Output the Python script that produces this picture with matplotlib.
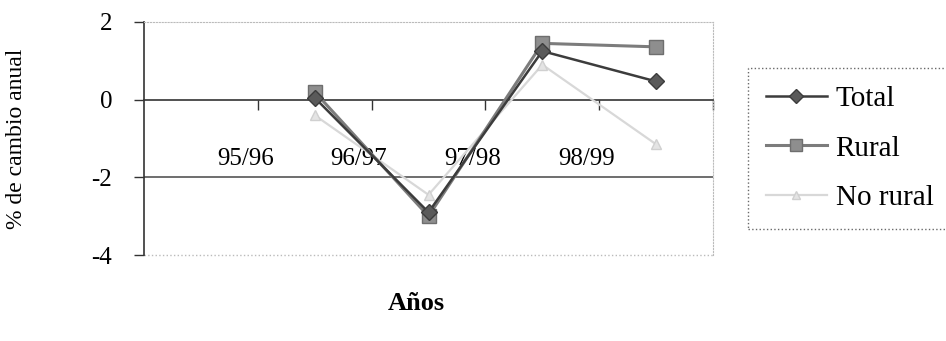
import matplotlib
matplotlib.use('Agg')
import matplotlib.pyplot as plt
import numpy as np

# category slots on the x axis; the first one has no data
categories = ['', '95/96', '96/97', '97/98', '98/99']
tick_labels = ['95/96', '96/97', '97/98', '98/99']

total = [np.nan, 0.05, -2.9, 1.25, 0.47]
rural = [np.nan, 0.2, -3.0, 1.45, 1.36]
no_rural = [np.nan, -0.4, -2.45, 0.9, -1.15]

plt.rcParams['font.family'] = ['Liberation Serif', 'DejaVu Serif']

fig = plt.figure(figsize=(9.46, 3.41), dpi=100)
ax = fig.add_axes([144 / 946, 1 - 255 / 341, 569 / 946, 233 / 341])

x = np.arange(len(categories))
ax.plot(x, no_rural, color='#d8d8d8', lw=1.6, marker='^', ms=7,
        mfc='#e4e4e4', mec='#d0d0d0', label='No rural', zorder=3)
ax.plot(x, rural, color='#7c7c7c', lw=2.2, marker='s', ms=10,
        mfc='#8e8e8e', mec='#6e6e6e', label='Rural', zorder=4)
ax.plot(x, total, color='#3c3c3c', lw=1.8, marker='D', ms=8,
        mfc='#5a5a5a', mec='#3c3c3c', label='Total', zorder=5)

ax.set_xlim(-0.5, len(categories) - 0.5)
ax.set_ylim(-4, 2)
ax.set_yticks([-4, -2, 0, 2])
ax.set_yticklabels(['-4', '-2', '0', '2'])

# reference line at -2
ax.axhline(-2, color='#555555', lw=1.2, zorder=1)

# x axis crossing at zero
ax.spines['bottom'].set_position(('data', 0))
ax.spines['bottom'].set_color('#333333')
ax.spines['bottom'].set_linewidth(1.2)
ax.spines['left'].set_color('#333333')
ax.spines['left'].set_linewidth(1.2)
for side in ['top', 'right']:
    ax.spines[side].set_linestyle(':')
    ax.spines[side].set_color('#bbbbbb')
ax.axhline(-4, color='#bbbbbb', lw=1, ls=':', clip_on=False, zorder=0)

ax.set_xticks(x + 0.5)
ax.set_xticklabels([])
ax.set_xticks(np.arange(len(tick_labels)) + 0.39, minor=True)
ax.set_xticklabels(tick_labels, minor=True)
ax.tick_params(axis='x', which='major', direction='out', length=7, width=1, color='#333333')
ax.tick_params(axis='x', which='minor', length=0, pad=35, labelsize=18)
ax.tick_params(axis='y', direction='out', length=7, width=1, color='#333333', pad=16, labelsize=18)

ax.set_ylabel('% de cambio anual', fontsize=17)
ax.yaxis.set_label_coords(-0.206, 0.5)
ax.set_xlabel('Años', fontsize=19, fontweight='bold')
ax.xaxis.set_label_coords(0.478, -0.16)

handles, labels = ax.get_legend_handles_labels()
order = [2, 1, 0]
leg = fig.legend([handles[i] for i in order], [labels[i] for i in order],
                 loc='upper left', bbox_to_anchor=(748 / 946, 1 - 68 / 341),
                 fontsize=21, frameon=True, fancybox=False, handlelength=2.1,
                 handletextpad=0.3, labelspacing=0.8, borderpad=0.6,
                 borderaxespad=0, markerscale=0.85)
frame = leg.get_frame()
frame.set_linestyle(':')
frame.set_edgecolor('#444444')
frame.set_linewidth(1)

fig.savefig('out.png', dpi=100)
